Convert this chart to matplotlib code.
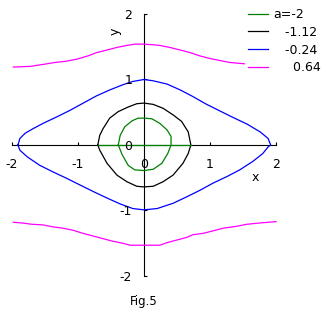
import matplotlib
matplotlib.use("Agg")
import matplotlib.pyplot as plt

# level values
levels = ["a=-2", "-1.12", "-0.24", "0.64"]
colors = ["green", "black", "blue", "magenta"]

# a = -2 (green) closed curve + segment on the x axis
green_x = [-0.39, -0.36, -0.29, -0.18, -0.09, 0, 0.12, 0.24, 0.35, 0.41, 0.41, 0.36,
           0.27, 0.14, 0, -0.14, -0.24, -0.33, -0.39]
green_y = [0, 0.15, 0.28, 0.37, 0.41, 0.41, 0.40, 0.33, 0.23, 0.13, 0, -0.13,
           -0.28, -0.37, -0.39, -0.38, -0.31, -0.15, 0]
green_seg_x = [-0.70, 0.71]
green_seg_y = [0, 0]

# a = -1.12 (black)
black_x = [-0.70, -0.67, -0.62, -0.52, -0.39, -0.24, -0.11, 0, 0.14, 0.29, 0.44, 0.57,
           0.67, 0.71, 0.67, 0.59, 0.44, 0.29, 0.14, 0, -0.11, -0.26, -0.41, -0.56,
           -0.67, -0.70]
black_y = [0, 0.15, 0.25, 0.41, 0.51, 0.58, 0.63, 0.64, 0.62, 0.56, 0.46, 0.36,
           0.20, 0, -0.13, -0.28, -0.46, -0.56, -0.63, -0.64, -0.63, -0.56, -0.46, -0.28,
           -0.08, 0]

# a = -0.24 (blue)
blue_x = [-1.91, -1.88, -1.80, -1.68, -1.53, -1.32, -1.12, -0.92, -0.72, -0.52, -0.32,
          -0.17, 0, 0.14, 0.35, 0.55, 0.74, 0.95, 1.15, 1.35, 1.56, 1.76, 1.88, 1.92,
          1.88, 1.80, 1.65, 1.45, 1.26, 1.05, 0.85, 0.65, 0.44, 0.20, 0, -0.17, -0.36,
          -0.56, -0.77, -0.97, -1.17, -1.38, -1.58, -1.77, -1.88, -1.91]
blue_y = [0, 0.10, 0.18, 0.25, 0.33, 0.43, 0.53, 0.64, 0.75, 0.84, 0.92,
          0.97, 1.0, 0.98, 0.93, 0.84, 0.74, 0.62, 0.52, 0.42, 0.32, 0.20, 0.10, 0,
          -0.03, -0.13, -0.25, -0.38, -0.48, -0.58, -0.69, -0.79, -0.89, -0.97, -0.99, -0.97, -0.90,
          -0.81, -0.71, -0.61, -0.51, -0.41, -0.31, -0.18, -0.08, 0]

# a = 0.64 (magenta), upper and lower branches
mag_top_x = [-1.98, -1.73, -1.53, -1.35, -1.17, -1.02, -0.85, -0.72, -0.56, -0.41, -0.26,
             -0.14, 0, 0.14, 0.24, 0.39, 0.55, 0.70, 0.85, 1.0, 1.15, 1.30, 1.52]
mag_top_y = [1.19, 1.20, 1.23, 1.26, 1.28, 1.31, 1.36, 1.41, 1.45, 1.49, 1.52,
             1.54, 1.54, 1.53, 1.52, 1.49, 1.45, 1.41, 1.36, 1.32, 1.29, 1.26, 1.24]
mag_bot_x = [-1.98, -1.85, -1.70, -1.53, -1.38, -1.23, -1.08, -0.92, -0.77, -0.62, -0.47,
             -0.32, -0.21, 0, 0.24, 0.35, 0.50, 0.65, 0.74, 0.89, 1.05, 1.20, 1.41, 1.56,
             1.76, 2.0]
mag_bot_y = [-1.18, -1.19, -1.21, -1.22, -1.25, -1.27, -1.30, -1.35, -1.39, -1.43, -1.47,
             -1.50, -1.53, -1.53, -1.53, -1.49, -1.45, -1.41, -1.37, -1.35, -1.31, -1.27, -1.24, -1.21,
             -1.19, -1.17]

ticks = [-2, -1, 0, 1, 2]
tick_labels = ["-2", "-1", "0", "1", "2"]

fig = plt.figure(figsize=(3.25, 3.18), dpi=100)
ax = fig.add_axes([0, 0, 1, 1])
ax.set_xlim(-144 / 66, 181 / 66)
ax.set_ylim(-173 / 65.5, 145 / 65.5)

lw = 0.9
ax.plot(green_x, green_y, color=colors[0], lw=lw, label=levels[0])
ax.plot(black_x, black_y, color=colors[1], lw=lw, label="   " + levels[1])
ax.plot(blue_x, blue_y, color=colors[2], lw=lw, label="   " + levels[2])
ax.plot(mag_top_x, mag_top_y, color=colors[3], lw=lw, label="     " + levels[3])
ax.plot(mag_bot_x, mag_bot_y, color=colors[3], lw=lw)

# axes through the origin
for s in ["top", "right"]:
    ax.spines[s].set_visible(False)
ax.spines["left"].set_position("zero")
ax.spines["bottom"].set_position("zero")
ax.spines["left"].set_bounds(-2, 2)
ax.spines["bottom"].set_bounds(-2, 2)
ax.spines["left"].set_zorder(1)
ax.spines["bottom"].set_zorder(1)
ax.plot(green_seg_x, green_seg_y, color=colors[0], lw=lw, zorder=3)
ax.set_xticks([-2, -1, 1, 2])
ax.set_yticks([-2, -1, 1, 2])
ax.tick_params(direction="in", length=2.5, width=0.8, labelbottom=False, labelleft=False)

fs = 9
for t, lab in zip(ticks, tick_labels):
    ax.text(t, -0.305, lab, ha="center", va="center", fontsize=fs)
    ax.text(-0.18, t - 0.02, lab, ha="right", va="center", fontsize=fs)

ax.text(1.68, -0.50, "x", ha="center", va="center", fontsize=fs)
ax.text(-0.44, 1.73, "y", ha="center", va="center", fontsize=fs, rotation=90)
fig.text(144 / 325, 1 - 302 / 318, "Fig.5", ha="center", va="center", fontsize=fs - 0.5)

ax.legend(loc="upper left", bbox_to_anchor=(248 / 325, 1 - 8 / 318), frameon=False,
          fontsize=fs, handlelength=1.6, handletextpad=0.4, labelspacing=0.38,
          borderaxespad=0, borderpad=0)

fig.savefig("out.png", dpi=100)
